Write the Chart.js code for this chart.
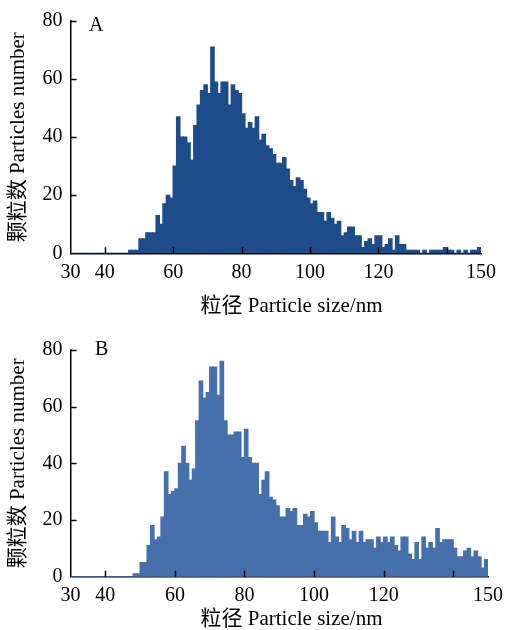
<!DOCTYPE html>
<html><head><meta charset="utf-8">
<script src="https://cdn.jsdelivr.net/npm/chart.js@4/dist/chart.umd.min.js"></script>
<style>
html,body{margin:0;padding:0;background:#fff;}
.panel{position:absolute;left:0;width:510px;height:315px;}
#pa{top:0}
#pb{top:315px}
</style></head><body>
<div class="panel" id="pa"><canvas id="ca" width="510" height="315"></canvas></div>
<div class="panel" id="pb"><canvas id="cb" width="510" height="315"></canvas></div>
<script>
// bin start (nm), 1-nm bins
const binStarts = [30,31,32,33,34,35,36,37,38,39,40,41,42,43,44,45,46,47,48,49,
  50,51,52,53,54,55,56,57,58,59,60,61,62,63,64,65,66,67,68,69,
  70,71,72,73,74,75,76,77,78,79,80,81,82,83,84,85,86,87,88,89,
  90,91,92,93,94,95,96,97,98,99,100,101,102,103,104,105,106,107,108,109,
  110,111,112,113,114,115,116,117,118,119,120,121,122,123,124,125,126,127,128,129,
  130,131,132,133,134,135,136,137,138,139,140,141,142,143,144,145,146,147,148,149];
const countsA = [0,0,0,0,0,0,0,0,0,0,0,0,0,0,0,0,0,1,1,1,
  5,5,7,7,7,13,10,17,20,19,30,47,40,40,38,32,44,51,56,58,
  55,71,59,55,59,59,51,58,56,55,48,43,45,43,47,39,41,37,36,34,
  31,31,33,29,25,23,26,25,22,19,17,18,14,14,11,14,12,10,11,6,
  7,9,9,6,6,2,4,5,3,6,6,2,3,5,1,6,3,3,1,1,
  1,1,0,1,0,1,1,1,1,2,1,1,0,1,0,1,0,1,1,2];
const countsB = [0,0,0,0,0,0,0,0,0,0,0,0,0,0,0,0,0,0,1,1,
  5,5,11,18,13,14,21,37,29,30,31,40,46,40,34,38,55,69,63,65,
  74,74,64,76,55,50,50,51,51,42,52,42,40,40,29,34,37,28,27,25,
  21,21,24,23,24,18,18,22,21,23,19,16,16,16,12,21,14,12,18,17,
  13,16,12,16,12,13,13,10,14,12,14,12,14,11,9,14,14,8,6,12,
  6,14,10,12,10,17,12,13,13,13,10,7,7,9,10,7,9,7,3,6];
const xTickValues = [30,40,60,80,100,120,140,150];
const xTickLabels = ['30','40','60','80','100','120','','150'];
const xMarkValues = [40,60,80,100,120,140];
const yMarkValues = [20,40,60,80];
const xTitle = '粒径 Particle size/nm';
const yTitle = '颗粒数 Particles number';

const FAM = "'Liberation Serif','Noto Sans CJK SC',serif";

const decor = {
  id: 'decor',
  afterDraw(chart, args, o) {
    const {ctx, chartArea: ca, scales: {x, y}} = chart;
    ctx.save();
    ctx.strokeStyle = '#000';
    ctx.lineWidth = 1.5;
    ctx.beginPath();
    xMarkValues.forEach(v => {
      const px = Math.round(x.getPixelForValue(v)) + 0.5;
      ctx.moveTo(px, ca.bottom); ctx.lineTo(px, ca.bottom - 6);
    });
    yMarkValues.forEach(v => {
      const py = Math.round(y.getPixelForValue(v)) + 0.5;
      ctx.moveTo(ca.left, py); ctx.lineTo(ca.left + 6, py);
    });
    ctx.stroke();
    ctx.fillStyle = '#000';
    ctx.font = '20px ' + FAM;
    ctx.textAlign = 'left';
    ctx.textBaseline = 'alphabetic';
    ctx.fillText(o.label, o.labelX, o.labelY);
    ctx.font = '21px ' + FAM;
    ctx.textAlign = 'center';
    ctx.textBaseline = 'middle';
    ctx.fillText(xTitle, o.titleX, o.titleY);
    ctx.restore();
  }
};

function makeChart(id, counts, color, g) {
  return new Chart(document.getElementById(id), {
    type: 'bar',
    data: { datasets: [{
      data: binStarts.map((s, i) => ({x: s + 0.5, y: counts[i]})),
      backgroundColor: color, borderWidth: 0, inflateAmount: 0.6,
      barPercentage: 1, categoryPercentage: 1
    }]},
    options: {
      responsive: false, animation: false, devicePixelRatio: 1,
      layout: {padding: {top: g.top, right: g.right, left: 0, bottom: 0}},
      plugins: {legend: {display: false}, tooltip: {enabled: false},
        decor: {label: g.label, labelX: g.labelX, labelY: g.labelY, titleX: g.titleX, titleY: g.titleY}},
      scales: {
        x: {type: 'linear', min: 30, max: 150, offset: false, z: 1,
          grid: {display: false, drawTicks: false},
          border: {display: true, color: '#000', width: 1.5},
          afterBuildTicks: s => { s.ticks = xTickValues.map(v => ({value: v})); },
          afterFit: s => { s.height = g.xh; },
          ticks: {autoSkip: false, maxRotation: 0, padding: 7, color: '#000',
            font: {family: FAM, size: 20},
            callback: v => { const i = xTickValues.indexOf(v); return i >= 0 ? xTickLabels[i] : ''; }}
        },
        y: {min: 0, max: 80, z: 1,
          grid: {display: false, drawTicks: false},
          border: {display: true, color: '#000', width: 1.5},
          afterFit: s => { s.width = g.yw; },
          ticks: {stepSize: 20, padding: 8, color: '#000', font: {family: FAM, size: 20}},
          title: {display: true, text: yTitle, color: '#000',
            font: {family: FAM, size: 21, lineHeight: 1}, padding: {top: 7.5, bottom: 0}}
        }
      }
    },
    plugins: [decor]
  });
}

makeChart('ca', countsA, '#1E4C8B',
  {top: 21, right: 29, yw: 70.5, xh: 315 - 253.3, label: 'A', labelX: 89, labelY: 31, titleX: 291.5, titleY: 306});
makeChart('cb', countsB, '#4570AB',
  {top: 35, right: 20, yw: 70.5, xh: 315 - 261.7, label: 'B', labelX: 95, labelY: 40, titleX: 291.5, titleY: 304});
</script>
</body></html>
